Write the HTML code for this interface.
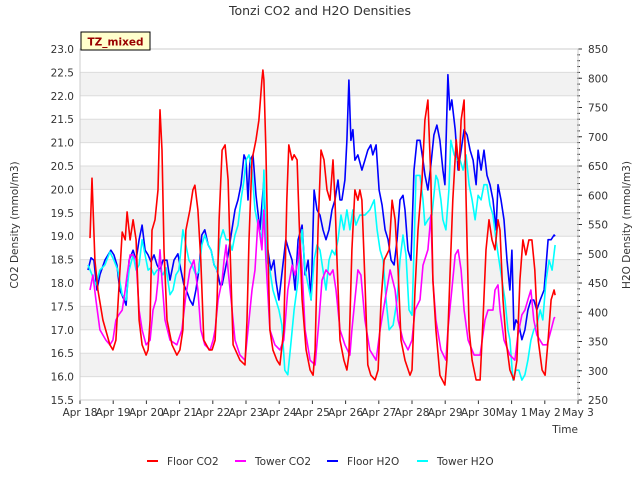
<!DOCTYPE html>
<html><head><meta charset="utf-8">
<style>
body{margin:0;background:#fff;}
svg text{font-family:"DejaVu Sans","Liberation Sans",sans-serif;}
</style></head>
<body>
<svg id="chart" width="640" height="480" viewBox="0 0 640 480" xmlns="http://www.w3.org/2000/svg">
<text x="320" y="15" text-anchor="middle" font-size="12.5" fill="#333">Tonzi CO2 and H2O Densities</text>
<g id="grid"></g>
<g id="series"></g>
<g id="axes"></g>
<g>
<rect x="81" y="32" width="69" height="18" fill="#ffffcc" stroke="#000" stroke-width="1"></rect>
<text x="115.5" y="45.5" text-anchor="middle" font-size="10.5" font-weight="bold" fill="#990000">TZ_mixed</text>
</g>
<text transform="translate(18,225) rotate(-90)" text-anchor="middle" font-size="10.5" fill="#333">CO2 Density (mmol/m3)</text>
<text transform="translate(630,225) rotate(-90)" text-anchor="middle" font-size="10.5" fill="#333">H2O Density (mmol/m3)</text>
<text x="578" y="433" text-anchor="end" font-size="10.5" fill="#333">Time</text>
<g id="legend"></g>
</svg>
<script>
const xTickLabels=["Apr 18","Apr 19","Apr 20","Apr 21","Apr 22","Apr 23","Apr 24","Apr 25","Apr 26","Apr 27","Apr 28","Apr 29","Apr 30","May 1","May 2","May 3"];
const co2Ticks=[15.5,16.0,16.5,17.0,17.5,18.0,18.5,19.0,19.5,20.0,20.5,21.0,21.5,22.0,22.5,23.0];
const h2oTicks=[250,300,350,400,450,500,550,600,650,700,750,800,850];
const seriesNames=["Floor CO2","Tower CO2","Floor H2O","Tower H2O"];
const floorCO2T=[.30,.36,.45,.54,.69,.90,.99,1.08,1.17,1.27,1.36,1.42,1.51,1.60,1.69,1.78,1.87,1.99,2.05,2.11,2.17,2.26,2.35,2.41,2.47,2.53,2.62,2.77,2.92,3.01,3.10,3.19,3.31,3.40,3.46,3.55,3.64,3.73,3.89,3.98,4.07,4.13,4.19,4.28,4.37,4.46,4.52,4.61,4.82,4.97,5.03,5.09,5.18,5.30,5.39,5.48,5.51,5.54,5.60,5.66,5.72,5.81,5.93,6.02,6.14,6.23,6.29,6.39,6.45,6.54,6.60,6.69,6.81,6.93,7.02,7.08,7.17,7.26,7.35,7.44,7.53,7.62,7.68,7.74,7.83,7.95,8.04,8.10,8.19,8.28,8.37,8.43,8.49,8.58,8.67,8.76,8.89,8.98,9.07,9.16,9.31,9.40,9.49,9.58,9.67,9.79,9.94,10.00,10.09,10.18,10.30,10.39,10.48,10.57,10.63,10.72,10.84,10.99,11.05,11.14,11.23,11.33,11.42,11.48,11.57,11.63,11.72,11.81,11.93,12.05,12.14,12.23,12.32,12.41,12.50,12.59,12.65,12.74,12.83,12.95,13.07,13.16,13.25,13.34,13.43,13.52,13.61,13.70,13.80,13.92,14.01,14.10,14.19,14.28,14.31];
const floorCO2=[18.96,20.24,18.49,17.85,17.21,16.68,16.57,16.78,17.85,19.09,18.92,19.52,18.92,19.35,18.92,17.21,16.68,16.46,16.57,17.21,19.13,19.35,19.99,21.70,20.84,18.71,17.21,16.68,16.46,16.57,17.0,19.13,19.56,19.99,20.09,19.56,18.49,16.78,16.57,16.57,16.78,17.64,19.35,20.84,20.95,20.20,18.71,16.68,16.35,16.25,17.21,18.92,20.63,21.06,21.48,22.34,22.55,22.34,20.84,18.71,17.0,16.57,16.35,16.25,17.0,19.77,20.95,20.63,20.74,20.63,19.35,17.64,16.57,16.14,16.03,16.57,19.13,20.84,20.63,19.99,19.77,20.63,19.77,18.49,16.78,16.35,16.14,16.46,18.71,19.99,19.77,19.99,19.77,18.06,16.25,16.03,15.93,16.14,17.64,18.49,18.71,19.77,19.35,18.28,16.78,16.35,16.03,16.14,17.85,19.13,20.20,21.48,21.91,20.20,18.06,17.0,16.03,15.82,16.35,18.06,19.77,21.06,20.41,21.48,21.91,19.77,17.0,16.35,15.93,15.93,17.21,18.71,19.35,18.92,18.71,19.35,19.13,17.64,16.78,16.14,15.93,16.35,18.06,18.92,18.6,18.92,18.92,18.28,16.78,16.14,16.03,16.78,17.64,17.85,17.74];
const towerCO2T=[.30,.39,.48,.60,.78,.90,.99,1.08,1.17,1.27,1.36,1.42,1.51,1.60,1.69,1.78,1.87,1.99,2.11,2.20,2.29,2.35,2.41,2.47,2.56,2.71,2.92,3.07,3.19,3.31,3.43,3.55,3.64,3.76,3.92,4.01,4.07,4.16,4.28,4.34,4.40,4.46,4.55,4.67,4.82,4.97,5.03,5.18,5.27,5.36,5.48,5.54,5.60,5.72,5.87,6.02,6.14,6.26,6.39,6.48,6.57,6.63,6.69,6.78,6.93,7.08,7.20,7.29,7.41,7.53,7.62,7.71,7.83,7.98,8.13,8.19,8.28,8.37,8.46,8.58,8.73,8.92,9.04,9.19,9.34,9.49,9.58,9.73,9.88,10.00,10.09,10.24,10.33,10.48,10.57,10.63,10.72,10.87,11.02,11.08,11.20,11.30,11.39,11.48,11.57,11.69,11.87,12.05,12.20,12.29,12.44,12.50,12.59,12.65,12.77,12.95,13.10,13.19,13.31,13.40,13.49,13.58,13.67,13.76,13.94,14.07,14.19,14.28,14.31];
const towerCO2=[17.85,18.17,17.64,17.0,16.78,16.68,16.78,17.21,17.32,17.42,17.85,18.17,18.6,18.6,18.49,17.42,17.0,16.68,16.78,17.42,17.64,18.06,18.71,18.06,17.21,16.78,16.68,17.0,17.74,18.28,18.49,17.85,17.0,16.68,16.57,16.78,17.0,17.64,18.06,18.49,18.81,18.28,17.64,16.78,16.46,16.35,16.78,17.85,18.28,19.35,18.71,19.56,18.49,17.0,16.68,16.57,16.78,17.85,18.38,18.17,18.49,18.92,18.28,17.0,16.35,16.25,17.21,18.06,18.28,18.17,18.28,17.85,17.0,16.68,16.46,17.0,17.64,18.28,18.17,17.21,16.57,16.35,17.0,17.64,18.28,17.85,17.21,16.78,16.57,16.78,17.42,17.64,18.38,18.71,19.45,18.06,17.21,16.57,16.35,17.0,17.85,18.6,18.71,18.28,17.42,16.78,16.46,16.46,17.21,17.42,17.42,17.85,17.96,17.42,16.78,16.46,16.35,16.89,17.32,17.42,17.64,17.85,17.21,16.89,16.68,16.68,17.0,17.25,17.27];
const floorH2OT=[.24,.33,.42,.51,.60,.75,.93,1.02,1.11,1.20,1.33,1.39,1.48,1.60,1.69,1.78,1.87,1.96,2.05,2.14,2.23,2.32,2.41,2.50,2.62,2.71,2.83,2.95,3.04,3.13,3.22,3.31,3.40,3.49,3.58,3.67,3.76,3.86,3.95,4.04,4.13,4.22,4.28,4.37,4.46,4.55,4.67,4.76,4.85,4.94,5.00,5.06,5.12,5.21,5.30,5.42,5.54,5.60,5.66,5.75,5.84,5.90,5.99,6.11,6.20,6.29,6.39,6.48,6.57,6.69,6.78,6.87,6.96,7.05,7.14,7.23,7.32,7.41,7.50,7.59,7.68,7.77,7.83,7.89,7.98,8.04,8.10,8.16,8.22,8.28,8.37,8.49,8.58,8.67,8.76,8.82,8.92,9.01,9.10,9.19,9.28,9.37,9.46,9.55,9.64,9.73,9.79,9.88,9.97,10.06,10.15,10.24,10.33,10.39,10.48,10.57,10.66,10.75,10.84,10.93,10.99,11.08,11.14,11.20,11.30,11.39,11.48,11.57,11.66,11.75,11.84,11.93,11.99,12.08,12.17,12.26,12.35,12.44,12.53,12.59,12.68,12.77,12.86,12.95,13.01,13.07,13.13,13.22,13.31,13.40,13.49,13.58,13.67,13.76,13.86,13.98,14.10,14.19,14.28,14.31];
const floorH2O=[472,493,489,438,464,489,506,498,481,438,421,412,489,506,489,524,549,506,498,486,498,481,472,489,489,455,489,500,472,447,435,421,412,438,472,532,541,515,506,481,472,447,447,472,498,532,575,592,618,669,660,592,660,669,600,541,626,524,506,472,489,455,421,481,524,506,489,438,524,549,464,489,421,609,575,566,541,524,541,575,592,626,592,592,626,694,797,694,712,660,669,643,660,677,686,669,686,609,583,541,524,489,481,524,592,600,575,506,489,643,694,694,660,635,609,652,703,720,694,643,618,806,746,763,712,643,677,712,703,677,660,618,677,643,677,634,618,592,541,618,592,558,489,438,506,370,387,378,353,370,404,421,421,404,421,438,524,524,532,530];
const towerH2OT=[.24,.36,.48,.60,.75,.90,1.02,1.14,1.27,1.39,1.48,1.60,1.69,1.78,1.87,1.96,2.05,2.14,2.23,2.32,2.41,2.50,2.59,2.71,2.80,2.89,2.98,3.10,3.19,3.28,3.37,3.49,3.58,3.67,3.76,3.86,3.95,4.04,4.13,4.22,4.31,4.40,4.49,4.58,4.67,4.76,4.85,4.94,5.00,5.09,5.18,5.27,5.36,5.48,5.54,5.63,5.72,5.81,5.90,5.99,6.08,6.17,6.26,6.36,6.45,6.57,6.63,6.69,6.78,6.87,6.96,7.05,7.14,7.23,7.32,7.41,7.50,7.59,7.68,7.77,7.86,7.95,8.04,8.13,8.22,8.31,8.43,8.58,8.73,8.86,8.95,9.04,9.13,9.22,9.31,9.43,9.55,9.64,9.73,9.82,9.91,10.00,10.06,10.12,10.24,10.33,10.39,10.48,10.60,10.72,10.78,10.87,10.93,11.02,11.11,11.17,11.27,11.36,11.45,11.54,11.63,11.72,11.81,11.90,11.99,12.08,12.17,12.26,12.35,12.44,12.53,12.62,12.71,12.80,12.89,12.95,13.04,13.13,13.22,13.31,13.40,13.49,13.58,13.67,13.76,13.86,13.94,14.04,14.13,14.22,14.31];
const towerH2O=[481,464,447,472,481,503,489,472,430,421,472,498,472,481,524,498,472,476,464,472,472,464,476,430,438,464,472,541,515,489,481,464,469,515,532,515,506,481,472,524,541,524,524,506,532,549,592,626,660,669,643,575,549,524,643,489,472,438,421,404,378,301,293,352,404,455,506,541,472,447,421,489,515,506,472,438,489,506,498,524,566,541,575,541,575,549,566,566,575,592,541,506,489,421,370,378,421,489,532,498,404,395,506,634,634,592,549,558,566,634,626,592,558,541,609,694,669,660,660,643,669,618,592,558,600,592,618,618,583,566,524,489,455,421,370,353,284,301,301,284,293,318,352,370,378,404,387,455,489,472,515];

const NS="http://www.w3.org/2000/svg";
const L=80,R=578,T=49,B=400;
const xScale=d=>L+(R-L)*d/15;
const yCO2=v=>B-(B-T)*(v-15.5)/7.5;
const yH2O=v=>B-(B-T)*(v-250)/600;
function mk(tag,attrs,parent){const e=document.createElementNS(NS,tag);for(const k in attrs)e.setAttribute(k,attrs[k]);parent.appendChild(e);return e;}
const grid=document.getElementById('grid'),axes=document.getElementById('axes'),ser=document.getElementById('series'),leg=document.getElementById('legend');
mk('rect',{x:L,y:T,width:R-L,height:B-T,fill:'#fff'},grid);
for(let i=0;i<co2Ticks.length-1;i++){
  if(i%2===1){const r=mk('rect',{x:L,y:yCO2(co2Ticks[i+1]),width:R-L,height:yCO2(co2Ticks[i])-yCO2(co2Ticks[i+1]),fill:'#f2f2f2'},grid);
  
  }
}
co2Ticks.forEach(v=>{const y=yCO2(v);
  mk('line',{x1:L,x2:R,y1:y,y2:y,stroke:'#dcdcdc','stroke-width':1},grid);
  const t=mk('text',{x:L-6,y:y+4,'text-anchor':'end','font-size':10.5,fill:'#333'},axes);t.textContent=v.toFixed(1);
  
  
});
h2oTicks.forEach(v=>{const y=yH2O(v);
  mk('line',{x1:R,x2:R+4,y1:y,y2:y,stroke:'#333'},axes);
  const t=mk('text',{x:R+10,y:y+4,'font-size':10.5,fill:'#333'},axes);t.textContent=v;
  
  
});
for(let v=250;v<=850;v+=10){const y=yH2O(v);mk('line',{x1:R-1,x2:R+2,y1:y,y2:y,stroke:'#333'},axes);}
xTickLabels.forEach((s,i)=>{const x=xScale(i);
  mk('line',{x1:x,x2:x,y1:B,y2:B+4,stroke:'#333'},axes);
  const t=mk('text',{x:x,y:B+16,'text-anchor':'middle','font-size':10.5,fill:'#333'},axes);t.textContent=s;
  
  
});
mk('rect',{x:L,y:T,width:R-L,height:B-T,fill:'none',stroke:'#ccc'},axes);
function drawLine(ts,vs,ys,color,name){
  const d=ts.map((t,i)=>(i?'L':'M')+xScale(t).toFixed(1)+','+ys(vs[i]).toFixed(1)).join('');
  const p=mk('path',{d:d,fill:'none',stroke:color,'stroke-width':1.6,'stroke-linejoin':'round'},ser);
  
  
}
drawLine(floorH2OT,floorH2O,yH2O,'#0000ff','floor-h2o-line');
drawLine(towerH2OT,towerH2O,yH2O,'#00ffff','tower-h2o-line');
drawLine(towerCO2T,towerCO2,yCO2,'#ff00ff','tower-co2-line');
drawLine(floorCO2T,floorCO2,yCO2,'#ff0000','floor-co2-line');
const legColors=['#ff0000','#ff00ff','#0000ff','#00ffff'];
const legX=[147,235,327,417];
seriesNames.forEach((n,i)=>{
  const g=mk('g',{},leg);
  
  
  mk('line',{x1:legX[i],x2:legX[i]+11,y1:461,y2:461,stroke:legColors[i],'stroke-width':2},g);
  const t=mk('text',{x:legX[i]+20,y:465,'font-size':10.5,fill:'#333'},g);t.textContent=n;
});
</script>
</body></html>
